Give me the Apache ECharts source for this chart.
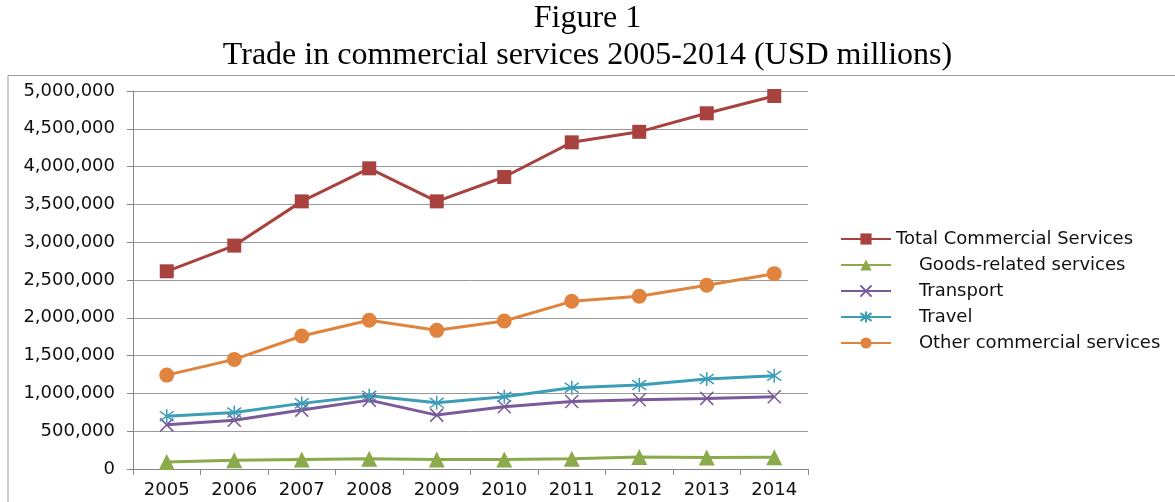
<!DOCTYPE html>
<html><head><meta charset="utf-8">
<script src="https://cdn.jsdelivr.net/npm/echarts@6/dist/echarts.min.js"></script>
<style>html,body{margin:0;padding:0;background:#fff}#c{width:1175px;height:502px}</style>
</head><body><div id="c"></div>
<script>
const years = ['2005','2006','2007','2008','2009','2010','2011','2012','2013','2014'];
const total = [2615000, 2955000, 3540000, 3977000, 3540000, 3862000, 4321000, 4460000, 4705000, 4934000];
const goods = [94000, 117000, 126000, 134000, 126000, 126000, 134000, 160000, 152000, 156000];
const transport = [584000, 646000, 779000, 911000, 713000, 823000, 894000, 915000, 934000, 955000];
const travel = [699000, 748000, 868000, 968000, 875000, 955000, 1074000, 1110000, 1190000, 1233000];
const other = [1242000, 1450000, 1759000, 1967000, 1834000, 1957000, 2218000, 2285000, 2430000, 2584000];
const yTicks = [0, 500000, 1000000, 1500000, 2000000, 2500000, 3000000, 3500000, 4000000, 4500000, 5000000];
const names = ['Total Commercial Services', '    Goods-related services', '    Transport', '    Travel', '    Other commercial services'];

const C = {red:'#A8423F', green:'#8BAA4B', purple:'#7A5A9A', teal:'#3C9DB6', orange:'#E0843D'};
const chart = echarts.init(document.getElementById('c'));
const axisFont = {fontFamily:'DejaVu Sans', fontSize:18, color:'#111'};
function mk(name, data, color, symbol, size, extra) {
  return Object.assign({
    name, type:'line', data, symbol, symbolSize:size,
    lineStyle:{color, width:3},
    itemStyle:{color, borderColor:color, borderWidth:0},
    emphasis:{disabled:true}, animation:false
  }, extra||{});
}
chart.setOption({
  animation:false,
  title:[
    {text:'Figure 1', left:'center', top:-2, textStyle:{fontFamily:'Liberation Serif', fontSize:32, fontWeight:'normal', color:'#000'}},
    {text:'Trade in commercial services 2005-2014 (USD millions)', left:'center', top:35, textStyle:{fontFamily:'Liberation Serif', fontSize:32, fontWeight:'normal', color:'#000'}}
  ],
  graphic:[
    {type:'polyline', shape:{points:[[8,600],[8,75.5],[1200,75.5]]}, style:{stroke:'#999', lineWidth:1, fill:null}, silent:true}
  ],
  grid:{left:133, right:367, top:91, bottom:33, containLabel:false},
  legend:{
    orient:'vertical', left:835, top:225, itemGap:8, itemWidth:50, itemHeight:14,
    data:names,
    textStyle:{fontFamily:'DejaVu Sans', fontSize:18, color:'#111'}
  },
  xAxis:{
    type:'category', data:years, boundaryGap:true,
    axisLine:{lineStyle:{color:'#888', width:1}},
    axisTick:{show:true, length:6, lineStyle:{color:'#888'}},
    axisLabel:Object.assign({margin:12}, axisFont),
    splitLine:{show:false}
  },
  yAxis:{
    type:'value', min:0, max:5000000, interval:500000,
    axisLine:{show:true, lineStyle:{color:'#888', width:1}},
    axisTick:{show:true, length:6, lineStyle:{color:'#888'}},
    axisLabel:Object.assign({margin:18, formatter:v=>v.toLocaleString('en-US')}, axisFont),
    splitLine:{show:true, lineStyle:{color:'#999', width:1}}
  },
  series:[
    mk(names[0], total, C.red, 'rect', 14),
    mk(names[1], goods, C.green, 'triangle', 16),
    mk(names[2], transport, C.purple, 'path://M0,0L10,10M10,0L0,10', 13, {itemStyle:{color:C.purple, borderColor:C.purple, borderWidth:1.5}}),
    mk(names[3], travel, C.teal, 'path://M5,0L5,10M0,1.5L10,8.5M0,8.5L10,1.5', 14, {itemStyle:{color:C.teal, borderColor:C.teal, borderWidth:1.5}}),
    mk(names[4], other, C.orange, 'circle', 15)
  ]
});
</script></body></html>
